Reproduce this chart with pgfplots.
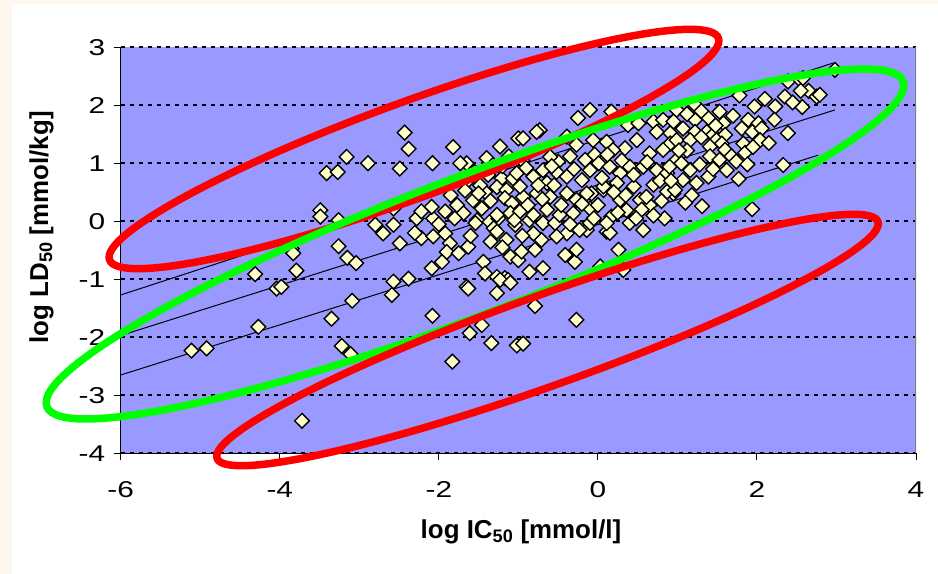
\documentclass[border=0pt]{standalone}
\usepackage{pgfplots}
\pgfplotsset{compat=1.18}
\usepackage{fontspec}
\setmainfont{Liberation Sans}
\definecolor{cream}{HTML}{FDF6EC}
\definecolor{plotblue}{HTML}{9999FF}
\definecolor{pointfill}{HTML}{FFFFCC}
\definecolor{ringred}{HTML}{FF0000}
\definecolor{ringgreen}{HTML}{00FF00}
\begin{document}
\begin{tikzpicture}
\fill[cream] (0bp,0bp) rectangle (938bp,574bp);
\fill[white] (12bp,0bp) rectangle (938bp,570bp);
\begin{axis}[
  at={(120.7bp,120.7bp)}, anchor=south west,
  scale only axis, width=795.3bp, height=406bp,
  xmin=-6, xmax=4, ymin=-4, ymax=3,
  axis lines*=left,
  axis line style={black, line width=1.3bp},
  axis background/.style={fill=plotblue},
  xtick={-6,-4,-2,0,2,4}, xticklabels={-6,-4,-2,0,2,4},
  ytick={-4,-3,-2,-1,0,1,2,3}, yticklabels={-4,-3,-2,-1,0,1,2,3},
  tick align=outside, major tick length=7bp,
  tick style={black, line width=1bp},
  ticklabel style={font=\fontsize{23}{27}\selectfont, xscale=1.3},
  xticklabel style={yshift=-18bp},
  yticklabel style={xshift=-3bp},
  ymajorgrids,
  major grid style={black, line width=2bp, dash pattern=on 4.5bp off 4.5bp},
]
% regression lines
\addplot[black, line width=1bp] coordinates {(-6,-1.27) (2.96,2.73)};
\addplot[black, line width=1bp] coordinates {(-6,-1.97) (2.98,1.92)};
\addplot[black, line width=1bp] coordinates {(-6,-2.65) (2.77,1.14)};
% compounds
\addplot[only marks, mark=square*, mark size=5.2bp,
  mark options={rotate=45, fill=pointfill, draw=black, line width=1.4bp}]
coordinates {
(-5.11,-2.23) (-4.92,-2.19) (-4.27,-1.82) (-3.72,-3.44) (-4.31,-0.91) (-4.04,-1.16)
(-3.98,-1.13) (-3.85,-0.47) (-3.83,-0.55) (-3.79,-0.85) (-3.49,0.19) (-3.49,0.08)
(-3.26,0.02) (-3.41,0.83) (-3.27,0.85) (-3.16,1.11) (-3.26,-0.43) (-3.15,-0.63)
(-3.04,-0.72) (-3.09,-1.37) (-3.35,-1.68) (-3.22,-2.15) (-3.11,-2.29) (-2.89,1.00)
(-2.49,0.91) (-2.43,1.53) (-2.38,1.25) (-2.08,1.00) (-1.82,1.28) (-1.65,1.00)
(-2.57,-1.04) (-2.38,-0.99) (-2.59,-1.27) (-2.08,-1.63) (-1.83,-2.42) (-1.65,-1.13)
(-1.61,-1.93) (-2.70,-0.21) (-2.80,-0.06) (-2.57,-0.06) (-2.49,-0.38) (-2.28,0.05)
(-2.22,0.17) (-2.07,0.05) (-1.92,0.17) (-1.77,0.28) (-1.69,0.14) (-2.22,-0.29)
(-2.07,-0.26) (-1.92,-0.21) (-1.86,-0.38) (-1.90,-0.53) (-1.96,-0.70) (-2.09,-0.81)
(-1.63,-0.44) (-2.57,0.22) (-2.09,0.25) (-1.52,0.02) (-1.54,-0.03) (-1.36,-0.01)
(-1.25,0.05) (-1.31,-0.12) (-1.27,-0.18) (-1.04,-0.06) (-1.15,-0.32) (-1.10,-0.61)
(-1.00,-0.67) (-1.44,-0.70) (-1.42,-0.90) (-1.27,-0.96) (-1.17,-0.98) (-1.13,-1.01)
(-1.63,-1.16) (-1.27,-1.24) (-1.46,-1.79) (-1.34,-2.10) (-1.02,-2.14) (-0.94,-2.11)
(-0.79,-1.46) (-0.27,-1.70) (-1.23,-1.01) (-1.10,-1.06)
(-1.40,1.09) (-1.32,0.97) (-1.23,1.29) (-1.00,1.43) (-1.21,0.74) (-1.07,0.74)
(-1.27,0.59) (-1.15,0.54) (-1.42,0.51) (-1.17,0.40) (-1.08,0.31) (-1.65,0.68)
(-1.67,0.53) (-1.57,0.36) (-1.46,0.22) (-1.27,0.11) (-1.10,0.14) (-1.73,1.00)
(0.84,0.05) (0.57,-0.15) (0.26,-0.49) (0.32,-0.84) (0.03,-0.78) (-0.86,-0.87)
(-0.69,-0.81) (-0.96,-0.52) (-0.79,-0.49) (-0.41,-0.58) (-0.29,-0.70) (-0.27,-0.49)
(0.11,-0.18) (0.15,-0.20) (0.40,-0.03) (0.17,0.08) (0.36,0.19) (0.53,0.37)
(0.65,0.28) (0.61,0.42) (0.95,0.48) (-0.14,-0.15) (-0.39,-0.21) (-0.52,-0.26)
(-0.71,-0.32) (-0.81,-0.21) (-0.86,0.02) (-0.69,-0.03) (-0.54,-0.03) (-0.64,0.20)
(-0.81,0.11) (-0.98,0.17) (-0.48,0.11) (-0.31,0.14) (-0.27,0.37) (-0.10,0.22)
(-0.10,-0.03) (-0.23,-0.15) (-0.08,0.48) (0.07,0.54) (0.28,0.37) (-0.60,0.42)
(-0.77,0.48) (-0.94,0.42) (-0.39,0.48) (0.11,-0.03)
(-0.10,1.92) (-0.25,1.78) (0.17,1.89) (-0.73,1.57) (-0.77,1.54) (-0.94,1.43)
(-0.39,1.46) (-0.27,1.32) (-0.06,1.40) (0.11,1.37) (0.38,1.66) (0.51,1.69)
(0.70,1.72) (0.82,1.75) (0.99,1.92) (0.74,1.54) (0.91,1.52) (0.91,1.34)
(0.49,1.40) (0.34,1.26) (0.19,1.23) (-0.04,1.15) (-0.16,1.06) (-0.50,1.03)
(-0.60,1.11) (-0.69,0.88) (-0.52,0.85) (-0.64,0.66) (-0.39,0.77) (-0.20,0.71)
(-0.10,0.88) (0.01,1.00) (0.15,0.94) (0.28,0.83) (0.40,0.94) (0.57,0.94)
(0.74,0.88) (0.87,0.83) (0.99,1.06) (0.65,1.17) (0.82,1.23) (0.24,0.66)
(0.07,0.60) (0.45,0.60) (0.70,0.63) (0.87,0.51) (-0.98,0.60) (-1.02,0.83)
(-0.81,0.77) (-0.14,0.48)
(2.98,2.61) (2.39,2.41) (2.54,2.44) (2.58,2.47) (2.65,2.25) (2.75,2.15)
(2.79,2.18) (2.35,2.15) (2.10,2.11) (1.97,1.98) (2.23,1.98) (2.57,1.97)
(1.78,2.17) (1.22,2.01) (1.53,1.89) (1.39,1.78) (1.22,1.75) (1.58,1.69)
(1.89,1.75) (2.02,1.69) (1.81,1.60) (1.94,1.54) (2.06,1.60) (2.04,1.40)
(1.83,1.34) (2.39,1.52) (1.07,1.60) (1.22,1.54) (1.37,1.54) (1.45,1.49)
(1.60,1.49) (1.49,1.40) (0.99,1.40) (1.16,1.40) (1.41,1.29) (1.56,1.34)
(1.60,1.23) (1.41,1.12) (1.53,1.06) (1.68,1.12) (1.74,1.03) (2.33,0.97)
(1.77,0.73) (1.39,0.77) (1.24,0.66) (1.05,1.00) (1.16,0.88) (1.07,0.71)
(0.90,0.94) (1.94,0.21) (1.31,0.26) (1.18,0.45) (1.10,0.32) (0.97,0.54)
(-1.55,0.85) (-1.48,0.62) (-1.38,0.80) (-1.35,0.35) (-1.20,0.95) (-1.12,1.12)
(-0.95,1.05) (-0.90,0.92) (-0.88,0.28) (-0.75,0.62) (-0.70,0.38) (-0.55,0.62)
(-0.46,0.28) (-0.58,0.95) (-0.35,1.12) (-0.30,0.90) (-1.05,0.02) (-1.20,-0.45)
(-1.35,-0.35) (-0.95,-0.25)
(0.00,0.28) (0.05,0.75) (0.20,0.50) (0.30,1.05) (0.45,0.80) (0.55,0.20)
(0.62,1.02) (0.78,0.70) (0.80,0.35) (0.92,0.70) (0.48,0.05) (0.25,0.15)
(-0.05,0.05) (0.12,1.15) (0.35,0.45) (0.70,0.10) (-0.20,0.30) (-0.35,-0.05)
(1.12,1.22) (1.30,1.45) (1.28,0.98) (1.45,0.90) (1.62,0.88) (1.85,1.18)
(1.95,1.28) (1.70,1.82) (1.48,1.65) (1.30,1.90) (2.15,1.35) (2.22,1.75)
(1.88,0.98) (1.02,1.22) (0.95,1.72) (1.12,1.85) (2.45,2.05) (2.55,2.25)
(-2.00,-0.05) (-1.80,0.05) (-1.60,-0.25) (-1.75,-0.55) (-1.85,0.45) (-1.50,0.48)
(-2.30,-0.20)
};
\draw[gray, line width=1.2bp] (rel axis cs:1,0) -- (rel axis cs:1,1);
\end{axis}
% hand-drawn rings
\begin{scope}[x=1bp, y=1bp, line width=7.5bp]
\draw[ringred, rotate around={20:(414,425)}] (414,425) ellipse (324 and 48);
\draw[ringgreen, rotate around={20.8:(475,330)}] (475,330) ellipse (458 and 69);
\draw[ringred, rotate around={19.7:(547.5,234)}] (547.5,234) ellipse (351 and 45);
\end{scope}
\node[anchor=base, font=\bfseries\fontsize{26}{30}\selectfont] at (521bp,36bp) {log IC\textsubscript{50} [mmol/l]};
\node[anchor=base west, rotate=90, font=\bfseries\fontsize{26}{30}\selectfont] at (48bp,227bp) {log LD\textsubscript{50} [mmol/kg]};
\pgfresetboundingbox
\useasboundingbox (0bp,0bp) rectangle (938bp,574bp);
\end{tikzpicture}
\end{document}
